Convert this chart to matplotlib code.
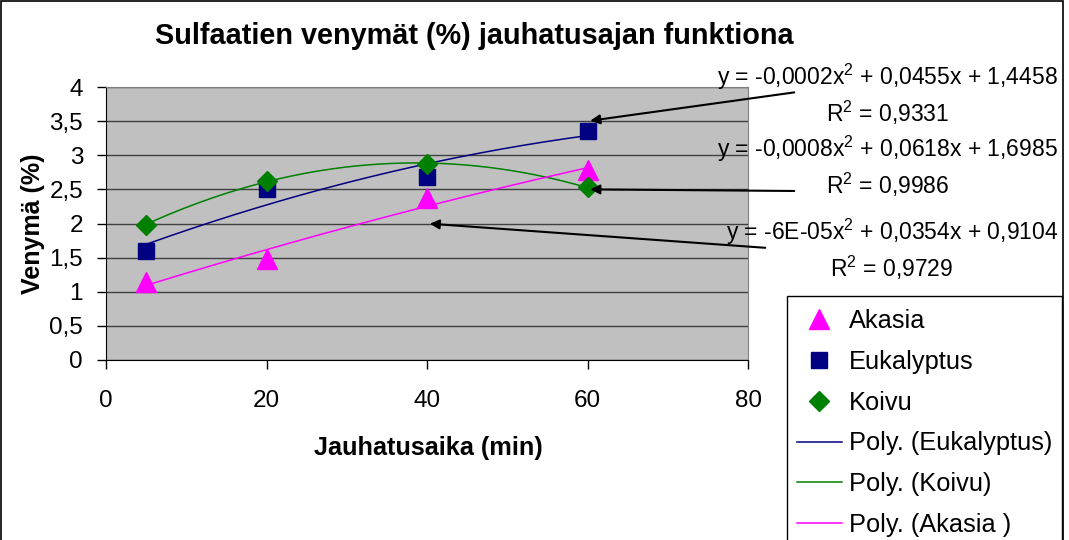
import numpy as np
from matplotlib import pyplot as plt
from matplotlib.patches import Rectangle
from matplotlib.ticker import FuncFormatter

plt.rcParams['font.family'] = ['Liberation Sans', 'DejaVu Sans']
plt.rcParams['mathtext.fontset'] = 'custom'
plt.rcParams['mathtext.rm'] = 'Liberation Sans'
plt.rcParams['mathtext.it'] = 'Liberation Sans'

# data
time_min = [5, 20, 40, 60]
akasia = [1.15, 1.48, 2.37, 2.78]
eukalyptus = [1.60, 2.50, 2.68, 3.35]
koivu = [1.98, 2.63, 2.87, 2.53]

eq_texts = [
    'y = -0,0002x$^2$ + 0,0455x + 1,4458\nR$^2$ = 0,9331',
    'y = -0,0008x$^2$ + 0,0618x + 1,6985\nR$^2$ = 0,9986',
    'y = -6E-05x$^2$ + 0,0354x + 0,9104\nR$^2$ = 0,9729',
]
# arrow tips (data) and tails (figure pixels)
arrow_tips = [(60, 3.5), (60, 2.5), (40, 2.0)]
arrow_tails = [(797, 448), (797, 349), (768, 292)]
eq_pos = [(1058, 478), (1058, 406), (1058, 323)]

W, H = 1069, 540
fig = plt.figure(figsize=(W / 100, H / 100), dpi=100)
ax = fig.add_axes([106 / W, 1 - 360 / H, (748 - 106) / W, (360 - 87) / H])
ax.set_facecolor('#c0c0c0')

ms = dict(linestyle='none', zorder=4)
h_ak, = ax.plot(time_min, akasia, marker='^', color='#ff00ff', markersize=15, label='Akasia', **ms)
h_eu, = ax.plot(time_min, eukalyptus, marker='s', color='#000080', markersize=12, label='Eukalyptus', **ms)
h_ko, = ax.plot(time_min, koivu, marker='D', color='#008000', markersize=10.5, label='Koivu', **ms)

# second order trendlines, like the spreadsheet does
xx = np.linspace(5, 60, 200)
fits = {}
for name, ys in [('eu', eukalyptus), ('ko', koivu), ('ak', akasia)]:
    fits[name] = np.polyval(np.polyfit(time_min, ys, 2), xx)
t_eu, = ax.plot(xx, fits['eu'], color='#000080', lw=1.1, label='Poly. (Eukalyptus)', zorder=3)
t_ko, = ax.plot(xx, fits['ko'], color='#008000', lw=1.1, label='Poly. (Koivu)', zorder=3)
t_ak, = ax.plot(xx, fits['ak'], color='#ff00ff', lw=1.1, label='Poly. (Akasia )', zorder=3)

ax.set_xlim(0, 80)
ax.set_ylim(0, 4)
ax.set_xticks([0, 20, 40, 60, 80])
ax.set_yticks(np.arange(0, 4.01, 0.5))
ax.yaxis.set_major_formatter(FuncFormatter(lambda v, p: ('%g' % v).replace('.', ',')))
ax.yaxis.grid(True, color='#404040', lw=1.0)
ax.set_axisbelow(True)
ax.tick_params(labelsize=17.5, direction='out', length=6.5, width=1, colors='black')
ax.tick_params(axis='x', pad=15)
ax.tick_params(axis='y', pad=10)
for s in ['top', 'right']:
    ax.spines[s].set_color('#808080')
for s in ['left', 'bottom']:
    ax.spines[s].set_color('black')

ax.set_xlabel('Jauhatusaika (min)', fontsize=18.2, fontweight='bold')
ax.xaxis.set_label_coords((428 - 106) / (748 - 106), -(436 - 360) / (360 - 87))
ax.set_ylabel('Venymä (%)', fontsize=18, fontweight='bold')
ax.yaxis.set_label_coords(-(106 - 45) / (748 - 106), 0.5)
fig.text(474 / W, 1 - 36 / H, 'Sulfaatien venymät (%) jauhatusajan funktiona',
         ha='center', va='center', fontsize=20.8, fontweight='bold')

for tip, tail, txt, pos in zip(arrow_tips, arrow_tails, eq_texts, eq_pos):
    ax.annotate('', xy=tip, xycoords='data', xytext=tail, textcoords='figure pixels',
                arrowprops=dict(arrowstyle='-|>', color='black', lw=1.5, mutation_scale=14),
                annotation_clip=False, zorder=5)
    fig.text(pos[0] / W, pos[1] / H, txt, ha='right', va='top', fontsize=16.5,
             multialignment='center', linespacing=1.3)

leg = fig.legend(handles=[h_ak, h_eu, h_ko, t_eu, t_ko, t_ak],
                 loc='upper left', bbox_to_anchor=(787 / W, 1 - 299 / H),
                 fontsize=18.3, frameon=False,
                 labelspacing=0.66, handlelength=1.75, borderaxespad=0, borderpad=0.4,
                 handletextpad=0.3)

# legend frame, cut off by the bottom edge like in the reference
fig.patches.append(Rectangle((787 / W, -0.05), (1062 - 787) / W, 0.05 + (540 - 296) / H,
                             transform=fig.transFigure, fill=False, edgecolor='black', lw=1.0))
# outer chart border
fig.patches.append(Rectangle((1 / W, -0.05), 1062 / W, 1.05 - 1 / H, transform=fig.transFigure,
                             fill=False, edgecolor='black', lw=1.2))

fig.savefig('out.png', dpi=100)
